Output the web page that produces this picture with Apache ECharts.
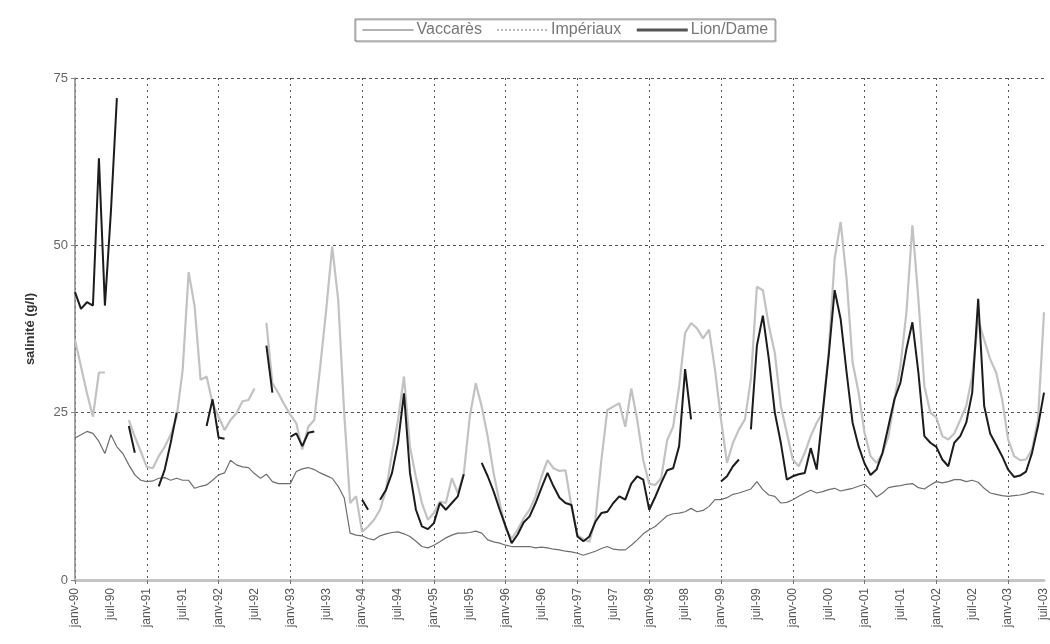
<!DOCTYPE html>
<html><head><meta charset="utf-8">
<script src="https://cdn.jsdelivr.net/npm/echarts@6/dist/echarts.min.js"></script>
<style>html,body{margin:0;padding:0;background:#fff}#c{width:1050px;height:644px}</style>
</head><body><div id="c"></div>
<script>
// Month labels (monthly categories, Jan 1990 .. Jul 2003)
const monthNames = ['janv','févr','mars','avr','mai','juin','juil','août','sept','oct','nov','déc'];
const startYear = 1990;
const monthCount = 163;
const categories = [];
for (let i = 0; i < monthCount; i++) {
  const y = startYear + Math.floor(i / 12);
  categories.push(monthNames[i % 12] + '-' + String(y % 100).padStart(2, '0'));
}
const yTicks = [0, 25, 50, 75];
const seriesNames = ['Vaccarès', 'Impériaux', 'Lion/Dame'];

const vaccares = [
21.2,21.7,22.2,21.9,20.7,18.9,21.7,19.9,18.9,17.2,15.7,14.9,
14.7,14.8,15.2,15.3,14.9,15.2,14.9,14.9,13.7,14.0,14.2,14.9,
15.7,16.0,17.9,17.2,16.9,16.8,15.9,15.2,15.8,14.7,14.4,14.4,
14.4,16.2,16.6,16.8,16.5,16.0,15.6,15.2,14.0,12.3,7.0,6.7,
6.6,6.2,6.0,6.6,6.9,7.1,7.2,6.9,6.5,5.8,5.0,4.8,
5.2,5.7,6.3,6.7,7.0,7.0,7.1,7.3,7.0,6.0,5.7,5.5,
5.2,5.0,5.0,5.0,5.0,4.8,4.9,4.8,4.6,4.5,4.3,4.2,
4.0,3.7,4.0,4.3,4.7,5.0,4.6,4.5,4.5,5.2,6.0,6.9,
7.5,8.0,8.8,9.6,9.9,10.0,10.2,10.7,10.2,10.4,11.0,12.0,
12.0,12.3,12.8,13.0,13.3,13.6,14.7,13.5,12.7,12.5,11.5,11.6,
12.0,12.5,13.0,13.4,13.0,13.2,13.5,13.7,13.3,13.5,13.7,14.0,
14.3,13.5,12.4,13.0,13.8,14.0,14.1,14.3,14.4,13.8,13.6,14.2,
14.7,14.5,14.7,15.0,15.0,14.7,14.9,14.6,13.7,13.0,12.8,12.6,
12.5,12.6,12.7,12.9,13.2,13.0,12.8
];

const imperiaux = [
35.9,31.9,27.9,24.4,31,31,null,null,null,23.9,21.4,19.2,
16.9,16.7,18.5,19.9,21.7,24.4,31.4,46,40.9,29.9,30.4,26.4,
24.4,22.4,23.9,24.9,26.7,26.9,28.6,null,38.4,29.4,27.9,26.2,
24.7,23.4,19.5,22.9,23.9,31.9,40.4,49.8,41.9,25,11.5,12.5,
7.2,8.0,9.0,10.5,13.5,18.9,23.9,30.4,19.9,15.4,11.5,9.0,
10.0,11.7,11.5,15.2,13.0,15.9,24.4,29.4,25.9,21.4,15.9,11.5,
7.7,6.2,7.5,9.2,10.5,12.5,15.5,17.9,16.7,16.3,16.4,11.0,
6.7,6.1,5.7,9.0,17.9,25.4,25.9,26.4,22.9,28.6,23.9,17.9,
14.4,14.2,15.2,20.9,22.9,28.9,36.9,38.4,37.6,36.1,37.4,31.4,
24,17.5,20.5,22.5,24,30,43.8,43.3,38,33.9,26,22,
18,17,19,21.5,23.5,25,34,48,53.5,45,32.5,28,
22,18.5,17.5,18.9,21.5,27,32,40,53,42,29,25,
24.3,21.5,21,21.9,23.9,26,30.5,38.9,35.9,33,31,27,
21,18.5,17.9,18,19.5,24,40
];

const lionDame = [
43,40.5,41.5,41,63,41,55,72,null,23,19,null,
null,null,14,16.5,20.5,25,null,null,null,null,23,27,
21.3,21.1,null,null,null,null,null,null,35,28,null,null,
21.4,21.9,20,22,22.2,null,null,null,null,null,null,null,
12,10.5,null,12,13.5,16,20.5,27.9,16,10.5,8,7.6,
8.5,11.5,10.5,11.5,12.5,15.8,null,null,17.5,15.5,13.2,10.5,
8.0,5.5,6.8,8.6,9.5,11.5,13.8,16,14.0,12.3,11.5,11.2,
6.5,5.8,6.5,8.7,10,10.2,11.5,12.5,12,14.4,15.5,15,
10.5,12.4,14.5,16.4,16.7,20,31.5,24,null,null,null,null,
14.7,15.5,17,18,null,22.5,35,39.5,33,25,20.5,15,
15.5,15.8,16,19.7,16.5,25,33.5,43.3,39,31,23.5,20,
17.4,15.7,16.5,19,23,27,29.5,34.5,38.5,31,21.5,20.5,
19.9,18,17,20.5,21.5,23.5,28,42,26,21.9,20.2,18.5,
16.5,15.4,15.6,16.2,19,23,28
];

const fontFam = '"Liberation Sans", Arial, sans-serif';
const chart = echarts.init(document.getElementById('c'), null, {renderer: 'canvas'});
chart.setOption({
  animation: false,
  backgroundColor: '#fff',
  textStyle: {fontFamily: fontFam},
  legend: {
    left: 355, top: 19,
    itemWidth: 51, itemHeight: 12, itemGap: 14,
    padding: [3, 7, 3, 7],
    borderColor: '#808080', borderWidth: 1,
    shadowColor: 'rgba(0,0,0,0.25)', shadowOffsetX: 1, shadowOffsetY: 1, shadowBlur: 0,
    itemStyle: {opacity: 0},
    textStyle: {fontSize: 16, color: '#777', fontFamily: fontFam, padding: [0, 0, 0, -2]},
    data: [
      {name: seriesNames[0], itemStyle: {opacity: 0}, lineStyle: {color: '#666', width: 1}},
      {name: seriesNames[1], itemStyle: {opacity: 0}, lineStyle: {color: '#b8b8b8', width: 2, type: [2, 2]}},
      {name: seriesNames[2], itemStyle: {opacity: 0}, lineStyle: {color: '#555', width: 3}}
    ]
  },
  grid: {left: 75, right: 0, top: 78, bottom: 64, containLabel: false},
  xAxis: {
    type: 'category',
    data: categories,
    boundaryGap: false,
    axisLine: {show: true, lineStyle: {color: '#c4c4c4', width: 3}},
    axisTick: {show: true, length: 4, interval: (i) => i % 12 === 0, lineStyle: {color: '#777'}},
    axisLabel: {
      rotate: 90, fontSize: 12, color: '#555', margin: 8,
      interval: (i) => i % 6 === 0, fontFamily: fontFam
    },
    splitLine: {
      show: true, interval: (i) => i % 12 === 0,
      lineStyle: {color: '#555', width: 1, type: [2, 4]}
    }
  },
  yAxis: {
    type: 'value',
    min: yTicks[0], max: yTicks[yTicks.length - 1], interval: 25,
    name: 'salinité (g/l)',
    nameLocation: 'middle', nameGap: 38,
    nameTextStyle: {fontSize: 13, fontWeight: 'bold', color: '#333', fontFamily: fontFam},
    axisLine: {show: true, lineStyle: {color: '#888', width: 1.5}},
    axisTick: {show: true, length: 4, lineStyle: {color: '#888'}},
    axisLabel: {fontSize: 13, color: '#666', margin: 7, fontFamily: fontFam},
    splitLine: {show: true, lineStyle: {color: '#555', width: 1, type: [3, 3]}}
  },
  series: [
    {name: seriesNames[0], type: 'line', data: vaccares, symbol: 'none', connectNulls: false,
     lineStyle: {color: '#6e6e6e', width: 1.2}, itemStyle: {color: '#6e6e6e'}},
    {name: seriesNames[1], type: 'line', data: imperiaux, symbol: 'none', connectNulls: false,
     lineStyle: {color: '#c2c2c2', width: 2.2}, itemStyle: {color: '#c2c2c2'}},
    {name: seriesNames[2], type: 'line', data: lionDame, symbol: 'none', connectNulls: false,
     lineStyle: {color: '#1c1c1c', width: 2}, itemStyle: {color: '#1c1c1c'}}
  ]
});
</script>
</body></html>
